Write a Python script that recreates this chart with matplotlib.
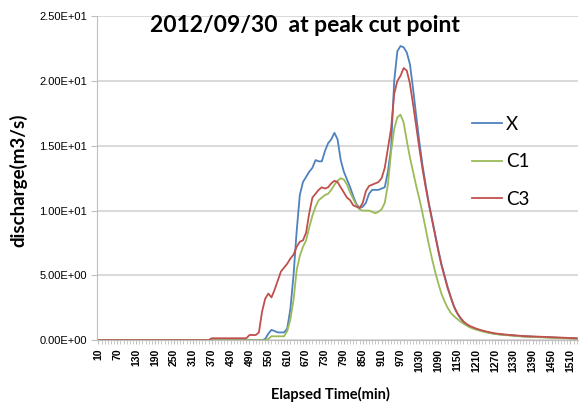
import matplotlib
matplotlib.use("Agg")
import matplotlib.pyplot as plt
from matplotlib.ticker import FuncFormatter, MultipleLocator

plt.rcParams['font.family'] = ['Lato', 'DejaVu Sans']

# elapsed time categories (min), 10..1530 every 10 min
minutes = list(range(10, 1540, 10))

x_vals = [
    0, 0, 0, 0, 0, 0, 0, 0, 0, 0,
    0, 0, 0, 0, 0, 0, 0, 0, 0, 0,
    0, 0, 0, 0, 0, 0, 0, 0, 0, 0,
    0, 0, 0, 0, 0, 0, 0, 0, 0, 0,
    0, 0, 0, 0, 0, 0, 0, 0, 0, 0,
    0, 0, 0,
    0.1, 0.5, 0.8, 0.7, 0.6, 0.6, 0.6, 0.9, 2.4, 5.0,
    8.4, 11.2, 12.2, 12.6, 13.0, 13.3, 13.9, 13.8, 13.8, 14.6,
    15.2, 15.5, 16.0, 15.5, 13.9, 13.0, 12.4, 11.8, 11.1, 10.5,
    10.2, 10.3, 10.6, 11.3, 11.6, 11.6, 11.6, 11.7, 11.8, 13.0,
    14.8, 20.0, 22.3, 22.7, 22.6, 22.2, 21.3, 19.4, 17.3, 15.3,
    13.5, 12.0, 10.6, 9.4, 8.2, 7.0, 5.9, 5.0, 4.1, 3.3,
    2.6, 2.1, 1.7, 1.4, 1.2, 1.05, 0.95, 0.85, 0.78, 0.7,
    0.65, 0.6, 0.55, 0.5, 0.47, 0.44, 0.42, 0.4, 0.38, 0.36,
    0.34, 0.32, 0.3, 0.29, 0.28, 0.27, 0.26, 0.25, 0.24, 0.23,
    0.22, 0.21, 0.2, 0.19, 0.18, 0.17, 0.16, 0.15, 0.14, 0.13,
]

c1_vals = [
    0, 0, 0, 0, 0, 0, 0, 0, 0, 0,
    0, 0, 0, 0, 0, 0, 0, 0, 0, 0,
    0, 0, 0, 0, 0, 0, 0, 0, 0, 0,
    0, 0, 0, 0, 0, 0, 0, 0, 0, 0,
    0, 0, 0, 0, 0, 0, 0, 0, 0, 0,
    0, 0, 0, 0,
    0.1, 0.3, 0.3, 0.3, 0.3, 0.3, 0.7, 1.6, 3.1,
    5.4, 6.5, 7.2, 7.7, 8.7, 9.6, 10.3, 10.8, 11.0, 11.2,
    11.3, 11.6, 12.0, 12.3, 12.5, 12.4, 12.0, 11.4, 10.9, 10.4,
    10.1, 10.0, 10.0, 10.0, 9.9, 9.8, 9.9, 10.1, 10.6, 12.0,
    14.5, 16.3, 17.2, 17.4, 16.8, 15.4, 14.1, 13.0, 11.9, 10.9,
    9.8, 8.6, 7.4, 6.3, 5.3, 4.4, 3.6, 3.0, 2.5, 2.1,
    1.85, 1.65, 1.45, 1.28, 1.13, 1.0, 0.9, 0.82, 0.75, 0.68,
    0.62, 0.57, 0.52, 0.48, 0.45, 0.42, 0.4, 0.38, 0.36, 0.34,
    0.32, 0.3, 0.28, 0.27, 0.26, 0.25, 0.24, 0.23, 0.22, 0.21,
    0.2, 0.19, 0.18, 0.17, 0.16, 0.15, 0.14, 0.13, 0.12, 0.11,
]

c3_vals = [
    0, 0, 0, 0, 0, 0, 0, 0, 0, 0,
    0, 0, 0, 0, 0, 0, 0, 0, 0, 0,
    0, 0, 0, 0, 0, 0, 0, 0, 0, 0,
    0, 0, 0, 0, 0, 0,
    0.15, 0.15, 0.15, 0.15, 0.15, 0.15, 0.15, 0.15, 0.15, 0.15,
    0.15, 0.15,
    0.4, 0.4, 0.4, 0.6, 2.2, 3.2, 3.6, 3.3, 3.9, 4.6,
    5.3, 5.6, 5.9, 6.3, 6.6, 7.2, 7.6, 7.7, 8.3, 9.8,
    11.0, 11.3, 11.6, 11.8, 11.7, 11.8, 12.1, 12.3, 12.2, 11.8,
    11.4, 11.0, 10.8, 10.4, 10.3, 10.2, 10.6, 11.5, 11.9, 12.0,
    12.1, 12.2, 12.5, 13.3, 14.8, 16.3, 19.0, 20.0, 20.4, 21.0,
    20.8, 19.8, 18.2, 16.5, 14.8, 13.2, 11.8, 10.5, 9.3, 8.1,
    6.9, 5.8, 4.9, 4.0, 3.3, 2.6, 2.1, 1.75, 1.45, 1.25,
    1.1, 1.0, 0.9, 0.82, 0.75, 0.69, 0.63, 0.58, 0.53, 0.5,
    0.47, 0.44, 0.42, 0.4, 0.38, 0.36, 0.34, 0.32, 0.31, 0.3,
    0.29, 0.28, 0.27, 0.26, 0.25, 0.24, 0.23, 0.22, 0.21, 0.2,
    0.19, 0.18, 0.17, 0.16, 0.15,
]

series = {"X": (x_vals, "#4F81BD"), "C1": (c1_vals, "#9BBB59"), "C3": (c3_vals, "#C0504D")}

fig = plt.figure(figsize=(5.8, 4.05), dpi=100)
ax = fig.add_axes([0.167, 0.160, 0.830, 0.800])

pos = range(len(minutes))
for name, (vals, color) in series.items():
    ax.plot(pos, vals, color=color, linewidth=1.3, label=name)

ax.set_xlim(-0.5, len(minutes) - 0.5)
ax.set_ylim(0, 25)
ax.yaxis.set_major_locator(MultipleLocator(5))
ax.yaxis.set_major_formatter(FuncFormatter(lambda v, p: f"{v:.2E}"))
ax.grid(axis="y", color="#D9D9D9", linewidth=1.4)
ax.set_axisbelow(True)

tick_font = ['Liberation Sans Narrow', 'Liberation Sans', 'DejaVu Sans']
ax.set_xticks(range(0, len(minutes), 6))
ax.set_xticklabels([str(m) for m in minutes[::6]], rotation=90, fontsize=7.5,
                   fontweight="bold", family=tick_font)
ax.set_xticks(range(len(minutes)), minor=True)
ax.tick_params(axis="x", which="both", length=3, color="#BFBFBF", pad=3)
ax.tick_params(axis="y", length=4, color="#BFBFBF", pad=3)
for lbl in ax.get_yticklabels():
    lbl.set_fontsize(8)
    lbl.set_family(tick_font)

for s in ["top", "right"]:
    ax.spines[s].set_visible(False)
for s in ["left", "bottom"]:
    ax.spines[s].set_color("#BFBFBF")

fig.text(0.526, 0.938, "2012/09/30  at peak cut point", ha="center", va="center",
         fontsize=16.5, fontweight="bold")
fig.text(0.031, 0.555, "discharge(m3/s)", rotation=90, ha="center", va="center",
         fontsize=13.5, fontweight="bold")
fig.text(0.569, 0.025, "Elapsed Time(min)", ha="center", va="center",
         fontsize=10.5, fontweight="bold")

ax.legend(loc="upper left", bbox_to_anchor=(0.745, 0.745), frameon=False, fontsize=13.5,
          handlelength=1.6, handletextpad=0.2, labelspacing=1.1)

fig.savefig("out.png", dpi=100)
